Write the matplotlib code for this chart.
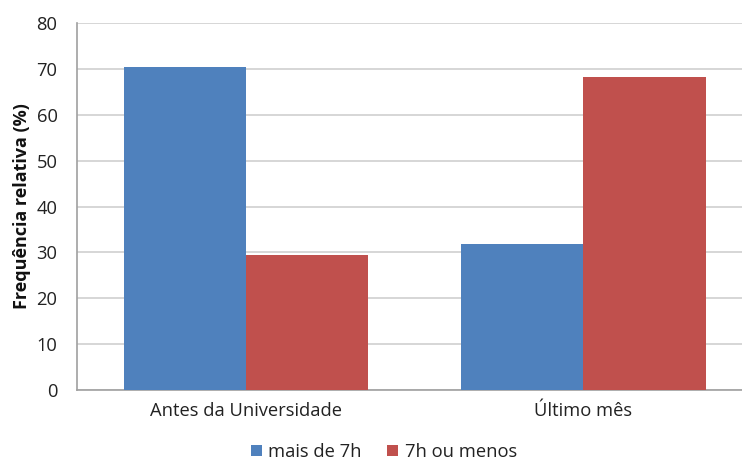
import numpy as np
import matplotlib
matplotlib.use("Agg")
import matplotlib.pyplot as plt

categories = ["Antes da Universidade", "Último mês"]
series_names = ["mais de 7h", "7h ou menos"]
mais_de_7h = [70.5, 31.8]
sete_ou_menos = [29.5, 68.2]
colors = ["#4F81BD", "#C0504D"]

plt.rcParams['font.family'] = ['Open Sans', 'DejaVu Sans']

fig = plt.figure(figsize=(7.42, 4.61), dpi=100)
ax = fig.add_axes([77 / 742, 1 - 390 / 461, 665 / 742, 367 / 461])

x = np.arange(len(categories))
w = 0.362
ax.bar(x - w / 2, mais_de_7h, w, color=colors[0], label=series_names[0], zorder=3)
ax.bar(x + w / 2, sete_ou_menos, w, color=colors[1], label=series_names[1], zorder=3)

ax.set_xlim(-0.5, 1.47)
ax.set_ylim(0, 80)
ax.set_yticks(range(0, 81, 10))
ax.set_xticks(x)
ax.set_xticklabels(categories, fontsize=13.2, color="#222222")
ax.tick_params(axis='y', labelsize=13.2, labelcolor="#222222", length=0, pad=14)
ax.tick_params(axis='x', length=0, pad=9)
ax.yaxis.grid(True, color="#D0D0D0", linewidth=1.2, zorder=0)
ax.set_axisbelow(True)

for s in ["top", "right"]:
    ax.spines[s].set_visible(False)
for s in ["left", "bottom"]:
    ax.spines[s].set_color("#A0A0A0")
    ax.spines[s].set_linewidth(1.2)

ax.set_ylabel("Frequência relativa (%)", fontsize=13, fontweight="bold",
              color="#111111", labelpad=4)

fig.legend(loc="center", bbox_to_anchor=(384 / 742, 1 - 452 / 461), ncol=2,
           frameon=False, fontsize=13.2, handlelength=0.6, handleheight=0.6,
           handletextpad=0.35, columnspacing=1.4, labelcolor="#222222")

fig.savefig("out.png", dpi=100)
